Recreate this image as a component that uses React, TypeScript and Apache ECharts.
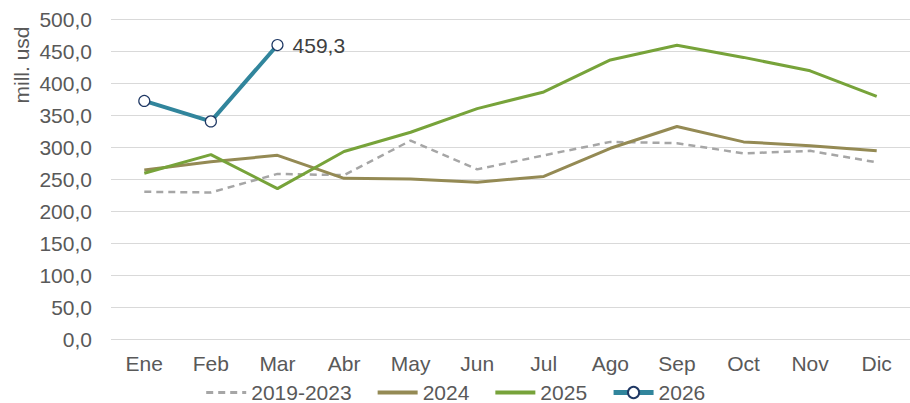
import React, { useEffect, useRef } from "react";
import * as echarts from "echarts";

const months = ["Ene", "Feb", "Mar", "Abr", "May", "Jun", "Jul", "Ago", "Sep", "Oct", "Nov", "Dic"];
const avg2019_2023 = [230, 229, 258, 256, 310, 265, 287, 308, 306, 290, 294, 276];
const y2024 = [264, 277, 287, 251, 250, 245, 254, 298, 332, 308, 302, 294];
const y2025 = [259, 288, 235, 293, 323, 360, 386, 436, 459, 440, 419, 379];
const y2026: (number | null)[] = [372, 340, 459.3, null, null, null, null, null, null, null, null, null];
const yTicks = { min: 0, max: 500, interval: 50 };

const fmt = (v: number) => v.toFixed(1).replace(".", ",");

export default function App() {
  const ref = useRef<HTMLDivElement>(null);
  useEffect(() => {
    if (!ref.current) return;
    const chart = echarts.init(ref.current, null, { renderer: "svg" });
    const font = "'Liberation Sans', Arial, sans-serif";
    const fs = 21;
    chart.setOption({
      animation: false,
      textStyle: { fontFamily: font },
      grid: { left: 111, top: 19, width: 800, height: 320, containLabel: false },
      legend: {
        top: 377,
        left: "center",
        itemWidth: 40,
        itemHeight: 14,
        itemGap: 24,
        textStyle: { fontSize: fs, color: "#595959", fontFamily: font },
        data: [
          { name: "2019-2023", itemStyle: { opacity: 0 }, lineStyle: { width: 3 } },
          { name: "2024", itemStyle: { opacity: 0 }, lineStyle: { width: 4 } },
          { name: "2025", itemStyle: { opacity: 0 }, lineStyle: { width: 4 } },
          { name: "2026", lineStyle: { width: 5 } },
        ],
      },
      xAxis: {
        type: "category",
        data: months,
        boundaryGap: true,
        axisLine: { show: false },
        axisTick: { show: false },
        axisLabel: { fontSize: fs, color: "#595959", margin: 14, fontFamily: font },
      },
      yAxis: {
        type: "value",
        min: yTicks.min,
        max: yTicks.max,
        interval: yTicks.interval,
        axisLine: { show: false },
        axisTick: { show: false },
        splitLine: { lineStyle: { color: "#D9D9D9", width: 1 } },
        axisLabel: { fontSize: fs, color: "#595959", margin: 19, formatter: fmt, fontFamily: font },
      },
      graphic: [
        {
          type: "text",
          x: 21,
          y: 65,
          rotation: Math.PI / 2,
          style: {
            text: "mill. usd",
            fontSize: fs,
            fill: "#595959",
            fontFamily: font,
            align: "center",
            verticalAlign: "middle",
          },
        },
      ],
      series: [
        {
          name: "2019-2023",
          type: "line",
          data: avg2019_2023,
          symbol: "none",
          lineStyle: { color: "#A6A6A6", width: 2.5, type: [7, 5] },
          itemStyle: { color: "#A6A6A6" },
        },
        {
          name: "2024",
          type: "line",
          data: y2024,
          symbol: "none",
          lineStyle: { color: "#948A54", width: 3 },
          itemStyle: { color: "#948A54" },
        },
        {
          name: "2025",
          type: "line",
          data: y2025,
          symbol: "none",
          lineStyle: { color: "#77A33A", width: 3 },
          itemStyle: { color: "#77A33A" },
        },
        {
          name: "2026",
          type: "line",
          data: y2026,
          symbol: "circle",
          symbolSize: 11,
          showAllSymbol: true,
          lineStyle: { color: "#31859C", width: 4 },
          itemStyle: { color: "#FFFFFF", borderColor: "#1F3864", borderWidth: 1.2 },
          label: {
            show: true,
            position: "right",
            distance: 9,
            fontSize: fs,
            color: "#404040",
            fontFamily: font,
            formatter: (p: any) => (p.dataIndex === 2 ? fmt(p.value) : ""),
          },
        },
      ],
    });
    return () => chart.dispose();
  }, []);
  return (
    <div
      ref={ref}
      style={{ position: "fixed", left: 0, top: 0, width: 910, height: 403, background: "#fff" }}
    />
  );
}
